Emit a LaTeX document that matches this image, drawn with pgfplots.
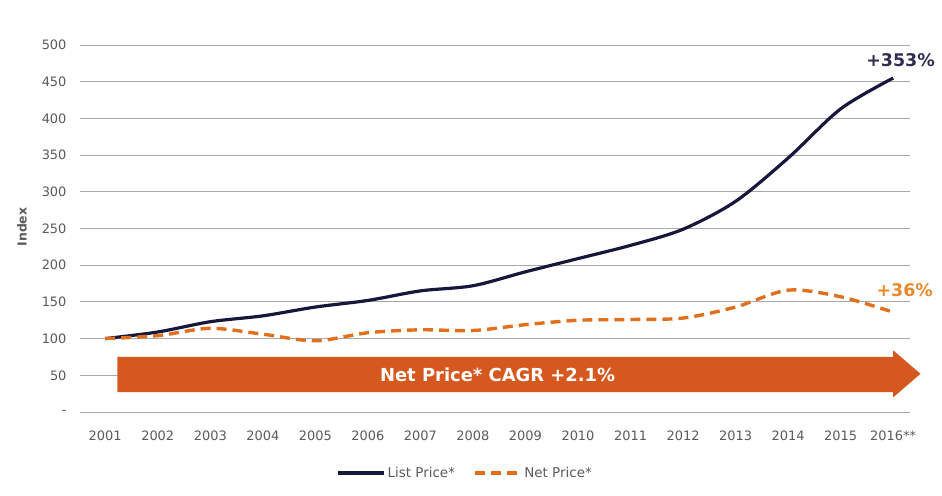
\documentclass[border=0pt]{standalone}
\usepackage{pgfplots}
\pgfplotsset{compat=1.18}
\usepackage{fontspec}
\setmainfont{DejaVu Sans}
\definecolor{listc}{HTML}{17173C}
\definecolor{netc}{HTML}{E0701E}
\definecolor{arrowc}{HTML}{D5581F}
\definecolor{tickc}{HTML}{5A5A5A}
\definecolor{gridc}{HTML}{A8A8A8}
\definecolor{lbl353}{HTML}{2E2D50}
\definecolor{lbl36}{HTML}{E8892D}
\begin{document}
\begin{tikzpicture}
\begin{axis}[
  at={(0,0)}, anchor=south west,
  scale only axis, width=830bp, height=367bp,
  xmin=2000.52, xmax=2016.32, ymin=0, ymax=500,
  clip=false,
  axis line style={draw=none},
  major tick length=0pt,
  ymajorgrids, grid style={gridc, line width=0.9bp},
  xtick={2001,2002,2003,2004,2005,2006,2007,2008,2009,2010,2011,2012,2013,2014,2015,2016},
  xticklabels={2001,2002,2003,2004,2005,2006,2007,2008,2009,2010,2011,2012,2013,2014,2015,2016**},
  ytick={0,50,100,150,200,250,300,350,400,450,500},
  yticklabels={-,50,100,150,200,250,300,350,400,450,500},
  ticklabel style={font=\fontsize{13}{15}\selectfont, text=tickc},
  xticklabel style={yshift=-15bp},
  yticklabel style={xshift=-10bp},
  ylabel={\bfseries Index},
  ylabel style={at={(axis description cs:-0.07,0.504)}, anchor=center, font=\fontsize{12.5}{14}\selectfont, text=tickc},
  legend style={at={(0.464,-0.166)}, anchor=center, draw=none, fill=none,
    legend columns=2, font=\fontsize{13.5}{15}\selectfont, text=tickc,
    /tikz/every even column/.append style={column sep=16bp}},
  legend image code/.code={\draw[#1] (0bp,0bp) -- (46bp,0bp);},
]
\fill[arrowc] (axis cs:2001.23,27) -- (axis cs:2016.0,27) -- (axis cs:2016.0,20)
  -- (axis cs:2016.52,52) -- (axis cs:2016.0,84) -- (axis cs:2016.0,75)
  -- (axis cs:2001.23,75) -- cycle;
\node[text=white, font=\bfseries\fontsize{18}{20}\selectfont] at (axis cs:2008.47,51) {Net Price* CAGR +2.1\%};
\addplot[listc, line width=3.2bp, smooth] coordinates {
(2001,100) (2002,109) (2003,123) (2004,131) (2005,143) (2006,152) (2007,165) (2008,172)
(2009,191) (2010,209) (2011,227) (2012,249) (2013,287) (2014,346) (2015,413) (2016,455)};
\addlegendentry{List Price*}
\addplot[netc, line width=3.4bp, dash pattern=on 10bp off 6bp, smooth] coordinates {
(2001,100) (2002,104) (2003,114) (2004,106) (2005,97) (2006,108) (2007,112) (2008,111)
(2009,119) (2010,125) (2011,126) (2012,128) (2013,143) (2014,166) (2015,157) (2016,136)};
\addlegendentry{Net Price*}
\node[text=lbl353, font=\bfseries\fontsize{17.5}{19}\selectfont] at (axis cs:2016.14,480) {+353\%};
\node[text=lbl36, font=\bfseries\fontsize{17.5}{19}\selectfont] at (axis cs:2016.22,166) {+36\%};
\end{axis}
\pgfresetboundingbox
\path (-80bp,-84bp) rectangle (862bp,412bp);
\end{tikzpicture}
\end{document}
